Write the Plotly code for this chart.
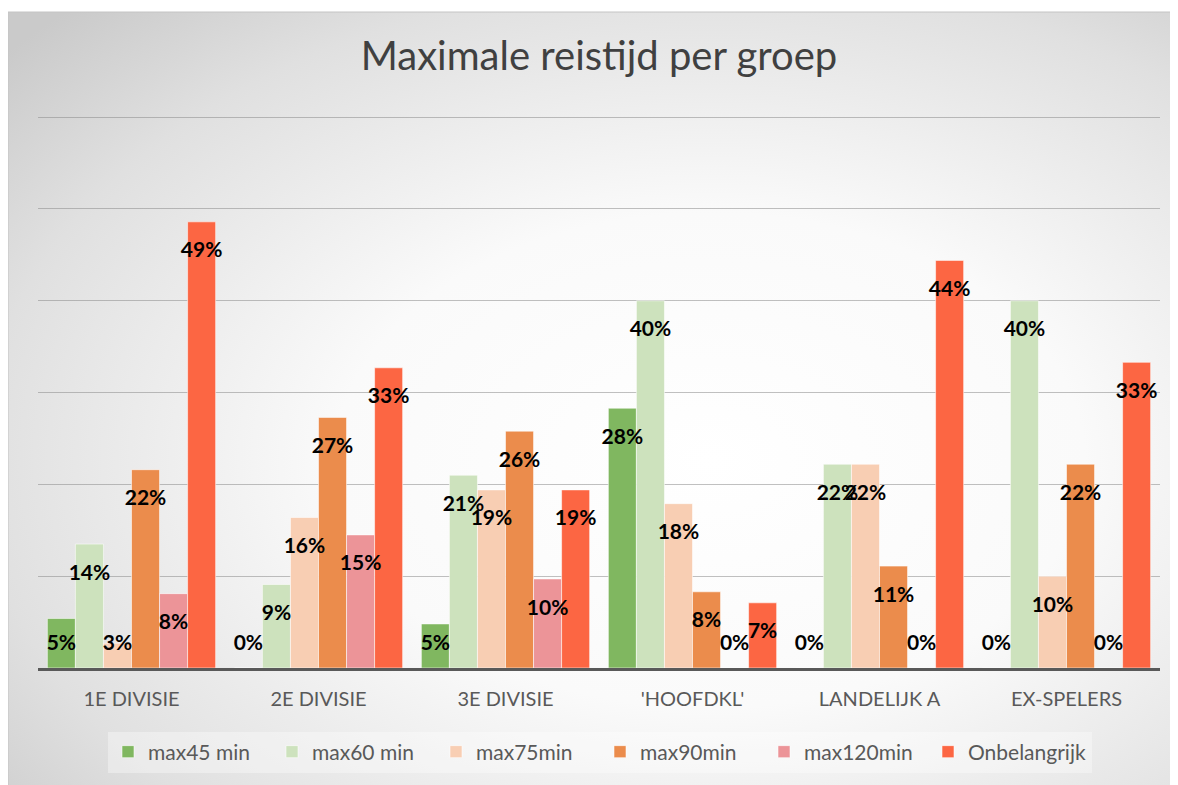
import base64
import plotly.graph_objects as go

# ---------------- data ----------------
categories = ["1E DIVISIE", "2E DIVISIE", "3E DIVISIE", "'HOOFDKL'", "LANDELIJK A", "EX-SPELERS"]
series_names = ["max45 min", "max60 min", "max75min", "max90min", "max120min", "Onbelangrijk"]
max45 = [5.4, 0.0, 4.8, 28.3, 0.0, 0.0]
max60 = [13.5, 9.1, 21.0, 40.0, 22.2, 40.0]
max75 = [2.7, 16.4, 19.4, 17.9, 22.2, 10.0]
max90 = [21.6, 27.3, 25.8, 8.3, 11.1, 22.2]
max120 = [8.1, 14.5, 9.7, 0.0, 0.0, 0.0]
onbelangrijk = [48.6, 32.7, 19.4, 7.1, 44.4, 33.3]
series_values = [max45, max60, max75, max90, max120, onbelangrijk]
grid_ticks = [10, 20, 30, 40, 50, 60]

# ---------------- style ----------------
colors = ["#80B760", "#CDE2BD", "#F8CEB3", "#EB8C4C", "#EC9498", "#FC6643"]
FONT = "Lato"
LABEL_DROP = 3.3   # label centre below bar top (data units)
LABEL_MIN = 2.5    # lowest label centre (data units)
YMAX = 61


def pct(v):
    return f"{int(v + 0.5)}%"


fig = go.Figure()

for name, vals, col in zip(series_names, series_values, colors):
    fig.add_trace(go.Bar(
        name=name, x=categories, y=vals,
        marker=dict(color=col, line=dict(color="rgba(255,255,255,0.55)", width=1)),
        hoverinfo="skip",
    ))

for name, vals in zip(series_names, series_values):
    fig.add_trace(go.Scatter(
        x=categories, y=[max(v - LABEL_DROP, LABEL_MIN) for v in vals],
        mode="text", text=[pct(v) for v in vals],
        textposition="middle center",
        textfont=dict(family=FONT, size=21, color="#000000", weight=700),
        showlegend=False, hoverinfo="skip", cliponaxis=False,
    ))

# background radial gradient (decoration)
svg = (
    '<svg xmlns="http://www.w3.org/2000/svg" width="1170" height="773" '
    'viewBox="0 0 1170 773" preserveAspectRatio="none">'
    '<defs><radialGradient id="g" cx="0.6" cy="0.58" r="0.8">'
    '<stop offset="0" stop-color="#ffffff"/>'
    '<stop offset="0.4" stop-color="#fafafa"/>'
    '<stop offset="0.78" stop-color="#e0e0e0"/>'
    '<stop offset="1" stop-color="#cacaca"/>'
    '</radialGradient></defs>'
    '<rect width="1170" height="773" fill="url(#g)"/></svg>'
)
src = "data:image/svg+xml;base64," + base64.b64encode(svg.encode()).decode()

# page body has an 8px margin: lay the figure out in shifted coordinates
OFF = 8
W, H = 1178, 785
pw, ph = 1122, 560
L, T = 38 - OFF, 668 - OFF - ph
R, B = W - L - pw, H - T - ph


def px(x):
    return (x - OFF - L) / pw


def py(y):
    return (T + ph + OFF - y) / ph


fig.add_layout_image(dict(
    source=src, xref="paper", yref="paper",
    x=px(8), y=py(12), sizex=px(1178) - px(8), sizey=py(12) - py(785),
    xanchor="left", yanchor="top", sizing="stretch", layer="below",
))
fig.add_shape(type="rect", xref="paper", yref="paper",
              x0=px(8), y0=py(795), x1=px(1190), y1=py(12),
              line=dict(color="#c4c4c4", width=1), layer="below")

fig.update_layout(
    width=W, height=H,
    margin=dict(l=L, r=R, t=T, b=B, autoexpand=False),
    paper_bgcolor="#ffffff",
    plot_bgcolor="rgba(0,0,0,0)",
    barmode="group", bargap=0.1, bargroupgap=0,
    scattermode="group", scattergap=0.1,
    title=dict(text="Maximale reistijd per groep",
               font=dict(family=FONT, size=40, color="#404040"),
               x=0.5, xref="paper", xanchor="center",
               y=1 - 48 / H, yref="container", yanchor="middle"),
    xaxis=dict(showline=True, linecolor="#595959", linewidth=3,
               showgrid=False, ticks="",
               tickfont=dict(family=FONT, size=20, color="#595959"),
               ticklabelstandoff=11),
    yaxis=dict(range=[0, YMAX], tickvals=grid_ticks,
               showticklabels=False,
               showgrid=True, gridcolor="rgba(140,140,140,0.55)", gridwidth=1,
               zeroline=False, showline=False),
    legend=dict(orientation="h", x=px(600), xanchor="center",
                y=py(752), yanchor="middle",
                bgcolor="rgba(255,255,255,0.35)",
                font=dict(family=FONT, size=21, color="#595959"),
                entrywidth=119, traceorder="normal"),
    showlegend=True,
)

fig.write_html("out.html")
